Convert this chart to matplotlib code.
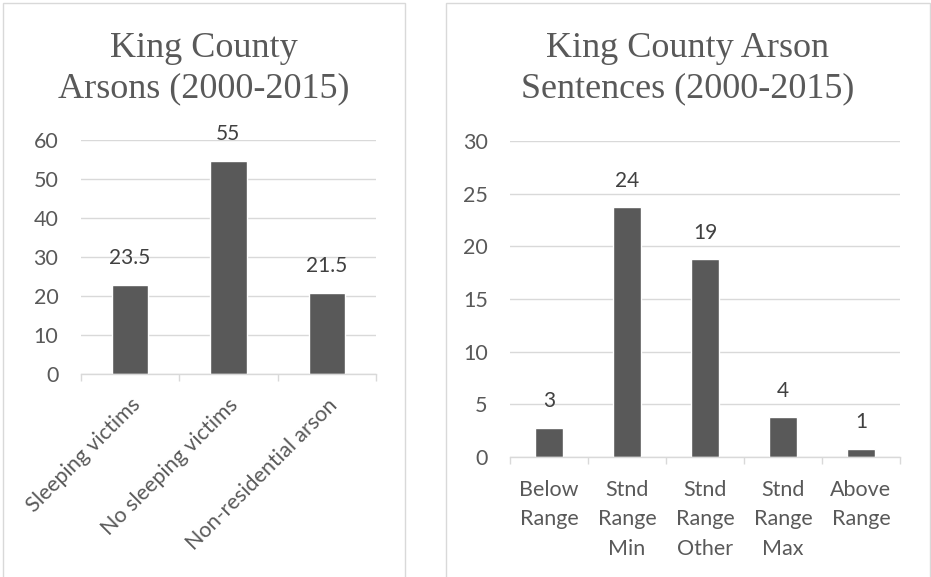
import matplotlib
matplotlib.use("Agg")
import matplotlib.pyplot as plt
from matplotlib.patches import Rectangle

# --- data ---
arson_categories = ["Sleeping victims", "No sleeping victims", "Non-residential arson"]
arson_values = [22.9, 54.7, 20.8]
arson_labels = ["23.5", "55", "21.5"]

sentence_categories = ["Below\nRange", "Stnd\nRange\nMin", "Stnd\nRange\nOther", "Stnd\nRange\nMax", "Above\nRange"]
sentence_values = [2.75, 23.75, 18.8, 3.75, 0.75]
sentence_labels = ["3", "24", "19", "4", "1"]

W, H = 931, 577
BAR = "#595959"
GRID = "#d9d9d9"
TXT = "#595959"
LBL = "#404040"
SANS = "Lato"
SERIF = "Liberation Serif"
TICK_FS = 15.5
LABEL_FS = 15

fig = plt.figure(figsize=(W / 100, H / 100), dpi=100)


def px_axes(x0, y0, x1, y1):
    # pixel box (top-left origin) -> figure axes
    return fig.add_axes([x0 / W, 1 - y1 / H, (x1 - x0) / W, (y1 - y0) / H])


def panel_box(x0, x1):
    # light grey chart-area border, runs past the bottom edge
    fig.patches.append(Rectangle((x0 / W, -0.05), (x1 - x0) / W, 1.05 - 3 / H,
                                 transform=fig.transFigure, fill=False,
                                 edgecolor=GRID, linewidth=1.0))


def style_axes(ax, n, ymax, ystep, ypad):
    ax.set_xlim(-0.5, n - 0.5)
    ax.set_ylim(0, ymax)
    ax.set_yticks(range(0, ymax + 1, ystep))
    ax.grid(axis="y", color=GRID, linewidth=1.0, zorder=0)
    ax.set_axisbelow(True)
    for side in ("top", "right", "left"):
        ax.spines[side].set_visible(False)
    ax.spines["bottom"].set_color(GRID)
    ax.spines["bottom"].set_linewidth(1.0)
    ax.tick_params(axis="y", length=0, pad=ypad, labelsize=TICK_FS, labelcolor=TXT)
    for t in ax.get_yticklabels():
        t.set_fontfamily(SANS)
    # tick marks sit between categories, labels at the centres
    ax.set_xticks([i - 0.5 for i in range(n + 1)], minor=True)
    ax.tick_params(axis="x", which="minor", length=5, width=1.0, color=GRID)
    ax.tick_params(axis="x", which="major", length=0)


def add_value_labels(ax, bars, labels):
    for b, lab in zip(bars, labels):
        ax.annotate(lab, (b.get_x() + b.get_width() / 2, b.get_height()),
                    xytext=(0, 19), textcoords="offset points",
                    ha="center", va="center", fontsize=LABEL_FS,
                    color=LBL, family=SANS)


# --- left chart ---
panel_box(3, 405)
ax1 = px_axes(80.7, 140, 376, 374)
bars1 = ax1.bar(range(len(arson_values)), arson_values, width=0.37,
                color=BAR, edgecolor="white", linewidth=1.0, zorder=2)
style_axes(ax1, len(arson_values), 60, 10, 16)
ax1.set_xticks(range(len(arson_categories)))
ax1.set_xticklabels(arson_categories, rotation=45, ha="right",
                    rotation_mode="anchor", fontsize=TICK_FS, color=TXT, family=SANS)
ax1.tick_params(axis="x", which="major", pad=15)
add_value_labels(ax1, bars1, arson_labels)
fig.text(204 / W, 1 - 68.5 / H, "King County\nArsons (2000-2015)", ha="center", va="center",
         fontsize=26, color=TXT, family=SERIF, linespacing=1.27)

# --- right chart ---
panel_box(446, 930)
ax2 = px_axes(510, 141.3, 900, 456.7)
bars2 = ax2.bar(range(len(sentence_values)), sentence_values, width=0.36,
                color=BAR, edgecolor="white", linewidth=1.0, zorder=2)
style_axes(ax2, len(sentence_values), 30, 5, 16)
ax2.set_xticks(range(len(sentence_categories)))
ax2.set_xticklabels(sentence_categories, ha="center", va="top", fontsize=TICK_FS,
                    color=TXT, family=SANS, linespacing=1.6)
ax2.tick_params(axis="x", which="major", pad=16.5)
add_value_labels(ax2, bars2, sentence_labels)
fig.text(688 / W, 1 - 68.5 / H, "King County Arson\nSentences (2000-2015)", ha="center", va="center",
         fontsize=26, color=TXT, family=SERIF, linespacing=1.27)

fig.savefig("out.png", dpi=100)
